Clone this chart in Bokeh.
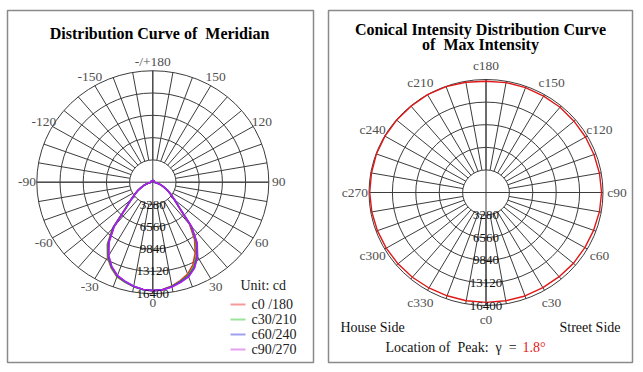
import numpy as np
from bokeh.plotting import figure
from bokeh.layouts import row
from bokeh.models import Range1d
from bokeh.core.properties import value
from bokeh.embed import file_html
from bokeh.resources import INLINE

# ---------------- data ----------------
RING_VALUES = [3280, 6560, 9840, 13120, 16400]
RING_LABELS = ["3280", "6560", "9840", "13120", "16400"]

MERIDIAN_TICKS = [0, 30, 60, 90, 120, 150, 180, -150, -120, -90, -60, -30]
MERIDIAN_TICK_LABELS = ["0", "30", "60", "90", "120", "150", "-/+180",
                        "-150", "-120", "-90", "-60", "-30"]

CONE_TICKS = [0, 30, 60, 90, 120, 150, 180, 210, 240, 270, 300, 330]
CONE_TICK_LABELS = ["c0", "c30", "c60", "c90", "c120", "c150", "c180",
                    "c210", "c240", "c270", "c300", "c330"]

# vertical angle gamma (deg)
GAMMA = [0, 5, 10, 15, 20, 25, 30, 35, 40, 45, 50, 55, 60, 65, 70, 75, 80, 85, 90,
         100, 120, 140, 160, 180]

# intensities (cd) - right half (positive angles) and left half (negative angles)
c0 = [15950, 15850, 15500, 15000, 14400, 13400, 12000, 10300, 8100, 5200, 3950, 3050,
      2350, 1750, 1250, 850, 500, 320, 250, 250, 250, 250, 250, 250]
c180 = [15950, 15850, 15600, 15200, 14800, 13900, 12800, 11200, 8800, 5500, 4100, 3150,
        2450, 1800, 1300, 880, 520, 330, 250, 250, 250, 250, 250, 250]
c30 = [15950, 15870, 15550, 15100, 14600, 13700, 12350, 10600, 8300, 5300, 4000, 3100,
       2400, 1780, 1270, 860, 510, 325, 250, 250, 250, 250, 250, 250]
c210 = [15950, 15860, 15600, 15200, 14750, 13850, 12700, 11100, 8700, 5450, 4080, 3130,
        2430, 1790, 1290, 870, 515, 328, 250, 250, 250, 250, 250, 250]
c60 = [15950, 15880, 15600, 15200, 14750, 13900, 12600, 10900, 8500, 5350, 4020, 3100,
       2400, 1780, 1270, 860, 510, 325, 250, 250, 250, 250, 250, 250]
c240 = [15950, 15850, 15550, 15100, 14650, 13750, 12550, 10900, 8600, 5350, 4020, 3100,
        2400, 1780, 1270, 860, 510, 325, 250, 250, 250, 250, 250, 250]
c90 = [15950, 15900, 15650, 15250, 14800, 13950, 12650, 10950, 8500, 5300, 4000, 3100,
       2400, 1780, 1270, 860, 510, 325, 250, 250, 250, 250, 250, 250]
c270 = [15950, 15850, 15550, 15100, 14600, 13700, 12450, 10750, 8450, 5300, 4000, 3100,
        2400, 1780, 1270, 860, 510, 325, 250, 250, 250, 250, 250, 250]

SERIES_NAMES = ["c0 /180", "c30/210", "c60/240", "c90/270"]
SERIES_RIGHT = [c0, c30, c60, c90]
SERIES_LEFT = [c180, c210, c240, c270]
SERIES_COLORS = ["#ff2a2a", "#1fae1f", "#2a2aff", "#b21fe6"]
LEGEND_COLORS = ["#f59a9a", "#9be49b", "#a0a0f0", "#e6a0f0"]

# conical curve at gamma = 1.8 deg, C = 0..350 step 10
CONE_C = list(range(0, 360, 10))
CONE_I = [15950, 15950, 15980, 15950, 15950, 16000, 16000, 16050, 16150, 16200,
          16150, 16100, 16100, 16100, 16150, 16150, 16200, 16200, 16150, 16250,
          16350, 16400, 16350, 16350, 16350, 16350, 16300, 16300, 16250, 16200,
          16150, 16100, 16050, 16000, 15950, 15950]
PEAK_GAMMA = "1.8°"

FONT = value("Liberation Serif")
GRID_COLOR = "#3c3c3c"
RMAX = RING_VALUES[-1]
NB = "\u00a0"


def polar_xy(vals, angs):
    a = np.radians(np.asarray(angs, dtype=float))
    v = np.asarray(vals, dtype=float)
    return v * np.sin(a), -v * np.cos(a)


def make_fig(width, page_x0, bl, br, cx, cy, rx, ry):
    sx = RMAX / rx
    sy = RMAX / ry
    frame_x0 = page_x0 + bl
    frame_x1 = page_x0 + width - br
    frame_y0, frame_y1 = 10, 362
    p = figure(width=width, height=370,
               x_range=Range1d((frame_x0 - cx) * sx, (frame_x1 - cx) * sx),
               y_range=Range1d((cy - frame_y1) * sy, (cy - frame_y0) * sy),
               output_backend="svg", toolbar_location=None,
               x_axis_location=None, y_axis_location=None,
               min_border_left=bl, min_border_right=br,
               min_border_top=frame_y0, min_border_bottom=370 - frame_y1)
    p.grid.visible = False
    p.outline_line_color = "#8a8a8a"
    p.outline_line_width = 1.5
    p.background_fill_color = "white"
    p.border_fill_color = "white"

    def to_data(px, py):
        return (px - cx) * sx, (cy - py) * sy
    return p, to_data


def draw_grid(p):
    n = len(RING_VALUES)
    p.ellipse(x=[0] * n, y=[0] * n, width=[2 * r for r in RING_VALUES],
              height=[2 * r for r in RING_VALUES], fill_color=None,
              line_color=GRID_COLOR, line_width=1)
    sp = np.arange(0, 360, 10)
    x0, y0 = polar_xy([RING_VALUES[0]] * len(sp), sp)
    x1, y1 = polar_xy([RMAX] * len(sp), sp)
    p.segment(x0=x0, y0=y0, x1=x1, y1=y1, line_color=GRID_COLOR, line_width=1)
    p.segment(x0=[-RMAX, 0], y0=[0, -RMAX], x1=[RMAX, 0], y1=[0, RMAX],
              line_color=GRID_COLOR, line_width=1)


def ring_labels(p):
    p.text(x=[0] * len(RING_VALUES), y=[-r for r in RING_VALUES], text=RING_LABELS,
           text_font=FONT, text_font_size="13px", text_color="#111111",
           text_align="center", text_baseline="alphabetic")


# ---------------- left: meridian ----------------
p1, d1 = make_fig(321, 0, 7, 8, 152.3, 181.7, 116, 111.5)
draw_grid(p1)

g = np.asarray(GAMMA, dtype=float)
for name, right, left, col in zip(SERIES_NAMES, SERIES_RIGHT, SERIES_LEFT, SERIES_COLORS):
    angs = np.concatenate([-g[::-1], g[1:]])
    vals = np.concatenate([np.asarray(left)[::-1], np.asarray(right)[1:]])
    x, y = polar_xy(vals, angs)
    p1.line(x=x, y=y, line_color=col, line_width=1.6)

lx, ly = polar_xy([RMAX * 1.085] * len(MERIDIAN_TICKS), MERIDIAN_TICKS)
p1.text(x=lx, y=ly, text=MERIDIAN_TICK_LABELS, text_font=FONT, text_font_size="13.5px",
        text_color="#505050", text_align="center", text_baseline="middle")
ring_labels(p1)

tx, ty = d1(159, 33)
p1.text(x=[tx], y=[ty], text=["Distribution Curve of" + NB + " Meridian"], text_font=FONT,
        text_font_size="16px", text_font_style="bold", text_color="black",
        text_align="center", text_baseline="middle")

ux, uy = d1(240, 285)
p1.text(x=[ux], y=[uy], text=["Unit: cd"], text_font=FONT, text_font_size="14px",
        text_color="#222222", text_align="left", text_baseline="middle")
rows_y = [304, 319, 334, 349]
for name, col, yy in zip(SERIES_NAMES, LEGEND_COLORS, rows_y):
    ax, ay = d1(230, yy)
    bx, _ = d1(245, yy)
    p1.segment(x0=[ax], y0=[ay], x1=[bx], y1=[ay], line_color=col, line_width=2)
    sx_, _ = d1(251, yy)
    p1.text(x=[sx_], y=[ay], text=[name], text_font=FONT, text_font_size="14px",
            text_color="#222222", text_align="left", text_baseline="middle")

# ---------------- right: conical ----------------
p2, d2 = make_fig(319, 321, 7, 8, 485.5, 192, 117, 113)
draw_grid(p2)
cx_, cy_ = polar_xy(CONE_I + CONE_I[:1], CONE_C + [360])
p2.line(x=cx_, y=cy_, line_color="#e01818", line_width=1.4)

lx, ly = polar_xy([RMAX * 1.12] * len(CONE_TICKS), CONE_TICKS)
p2.text(x=lx, y=ly, text=CONE_TICK_LABELS, text_font=FONT, text_font_size="13.5px",
        text_color="#505050", text_align="center", text_baseline="middle")
ring_labels(p2)

tx, ty = d2(480, 28.5)
p2.text(x=[tx], y=[ty], text=["Conical Intensity Distribution Curve"], text_font=FONT,
        text_font_size="16px", text_font_style="bold", text_color="black",
        text_align="center", text_baseline="middle")
tx, ty = d2(480, 43.5)
p2.text(x=[tx], y=[ty], text=["of" + NB + " Max Intensity"], text_font=FONT,
        text_font_size="16px", text_font_style="bold", text_color="black",
        text_align="center", text_baseline="middle")

hx, hy = d2(340, 327)
p2.text(x=[hx], y=[hy], text=["House Side"], text_font=FONT, text_font_size="14px",
        text_color="#111111", text_align="left", text_baseline="middle")
hx, hy = d2(620, 327)
p2.text(x=[hx], y=[hy], text=["Street Side"], text_font=FONT, text_font_size="14px",
        text_color="#111111", text_align="right", text_baseline="middle")
hx, hy = d2(385, 347)
p2.text(x=[hx], y=[hy], text=["Location of" + NB + " Peak:" + NB + " γ" + NB + " ="],
        text_font=FONT, text_font_size="14px", text_color="#111111", text_align="left",
        text_baseline="middle")
hx, hy = d2(522, 347)
p2.text(x=[hx], y=[hy], text=[PEAK_GAMMA], text_font=FONT, text_font_size="14px",
        text_color="#e01818", text_align="left", text_baseline="middle")

layout = row(p1, p2, spacing=0)
open("out.html", "w").write(file_html(layout, INLINE))
